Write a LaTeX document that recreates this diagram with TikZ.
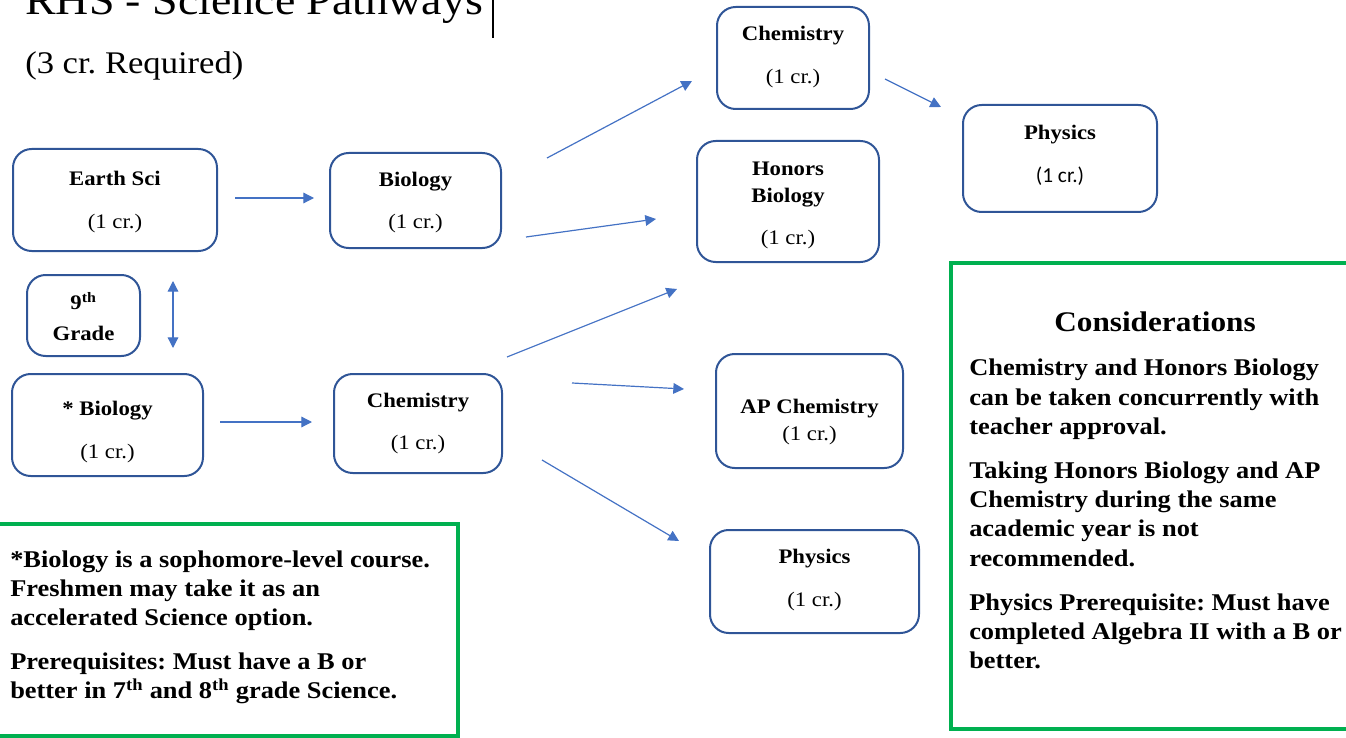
\documentclass[tikz,border=0pt]{standalone}
\usepackage{fontspec}
\setmainfont[FakeStretch=1.1]{Liberation Serif}
\newfontfamily\calib{Carlito}
\usetikzlibrary{arrows.meta,fit}
\definecolor{boxblue}{HTML}{2F5597}
\definecolor{arrblue}{HTML}{4472C4}
\definecolor{grn}{HTML}{00B050}
\newcommand\onecr{\mdseries(1 cr.)}
\frenchspacing
\begin{document}
\begin{tikzpicture}[x=0.75pt,y=-0.75pt,
  course/.style={draw=boxblue, line width=1.5pt, rounded corners=14pt, inner sep=0pt},
  greenbox/.style={draw=grn, line width=3.6pt, inner sep=0pt},
  ttl/.style={align=center, inner sep=0pt, font=\bfseries\fontsize{15.5}{32}\selectfont},
  body/.style={align=left, inner sep=0pt, anchor=north west, font=\bfseries\fontsize{18}{21.9}\selectfont},
  arr/.style={draw=arrblue, line width=0.9pt, -{Triangle[length=8pt,width=8pt]}},
  dblarr/.style={draw=arrblue, line width=0.9pt, {Triangle[length=8pt,width=8pt]}-{Triangle[length=8pt,width=8pt]}},
]
\useasboundingbox (0,0) rectangle (1346,738);
\clip (0,0) rectangle (1346,738);

% title
\node[anchor=base west, inner sep=0pt, font=\fontsize{31.3}{36}\selectfont] (title) at (25,15) {RHS - Science Pathways};
\draw[black, line width=0.8pt] (493,0) -- (493,38);
\node[anchor=base west, inner sep=0pt, font=\fontsize{23.6}{28}\selectfont] (req) at (25,74) {(3 cr. Required)};

% course boxes
\node[course, fit={(13,149) (217,251)}] (earth) {};
\node[ttl] (earthT) at (115,202) {Earth Sci\\\onecr};
\node[course, fit={(330,153) (501,248)}] (bio) {};
\node[ttl] (bioT) at (415.5,202.5) {Biology\\\onecr};
\node[course, fit={(27,275) (140,356)}] (grade) {};
\node[ttl, font=\bfseries\fontsize{15.5}{23.25}\selectfont] (gradeT) at (83.5,317) {9\textsuperscript{th}\\Grade};
\node[course, fit={(12,374) (203,476)}] (sbio) {};
\node[ttl] (sbioT) at (107.5,432) {* Biology\\\onecr};
\node[course, fit={(334,374) (502,473)}] (chem) {};
\node[ttl] (chemT) at (418,423.5) {Chemistry\\\onecr};
\node[course, fit={(717,7) (869,109)}] (chemtop) {};
\node[ttl] (chemtopT) at (793,57) {Chemistry\\\onecr};
\node[course, fit={(697,141) (879,262)}] (hbio) {};
\node[ttl, font=\bfseries\fontsize{15.5}{20.25}\selectfont] (hbioT) at (788,205.5) {Honors\\Biology\\[11.25pt]\onecr};
\node[course, fit={(963,105) (1157,212)}] (phys1) {};
\node[ttl] (phys1T) at (1060,155) {Physics\\{\calib\mdseries\fontsize{16}{20}\selectfont(1 cr.)}};
\node[course, fit={(716,354) (903,468)}] (apchem) {};
\node[ttl, font=\bfseries\fontsize{15.5}{20.25}\selectfont] (apchemT) at (809.5,422) {AP Chemistry\\\onecr};
\node[course, fit={(710,530) (919,633)}] (phys2) {};
\node[ttl] (phys2T) at (814.5,580) {Physics\\\onecr};

% arrow end points
\coordinate (a1s) at (235,198);  \coordinate (a1e) at (314,198);
\coordinate (a2s) at (173,281);  \coordinate (a2e) at (173,348);
\coordinate (a3s) at (220,422);  \coordinate (a3e) at (312,422);
\coordinate (a4s) at (547,158);  \coordinate (a4e) at (692,81);
\coordinate (a5s) at (526,237);  \coordinate (a5e) at (656,219);
\coordinate (a6s) at (507,357);  \coordinate (a6e) at (677,289);
\coordinate (a7s) at (572,383);  \coordinate (a7e) at (684,389);
\coordinate (a8s) at (542,460);  \coordinate (a8e) at (679,541);
\coordinate (a9s) at (885,79);   \coordinate (a9e) at (941,107);

\draw[arr] (a1s) -- (a1e);
\draw[dblarr] (a2s) -- (a2e);
\draw[arr] (a3s) -- (a3e);
\draw[arr] (a4s) -- (a4e);
\draw[arr] (a5s) -- (a5e);
\draw[arr] (a6s) -- (a6e);
\draw[arr] (a7s) -- (a7e);
\draw[arr] (a8s) -- (a8e);
\draw[arr] (a9s) -- (a9e);

% note box (left)
\node[greenbox, fit={(-20,524) (458,736)}] (note) {};
\node[body, font=\bfseries\fontsize{18}{21.5}\selectfont] (noteT) at (10,551) {*Biology is a sophomore-level course.\\
Freshmen may take it as an\\
accelerated Science option.\\[12pt]
Prerequisites: Must have a B or\\
better in 7\textsuperscript{th} and 8\textsuperscript{th} grade Science.};

% considerations box (right)
\node[greenbox, fit={(951,263) (1370,729)}] (cons) {};
\node[inner sep=0pt, font=\bfseries\fontsize{21.3}{26}\selectfont] (consH) at (1155,322) {Considerations};
\node[body] (consT) at (969,359) {Chemistry and Honors Biology\\
can be taken concurrently with\\
teacher approval.\\[11.25pt]
Taking Honors Biology and AP\\
Chemistry during the same\\
academic year is not\\
recommended.\\[11.25pt]
Physics Prerequisite: Must have\\
completed Algebra II with a B or\\
better.};
\end{tikzpicture}
\end{document}
